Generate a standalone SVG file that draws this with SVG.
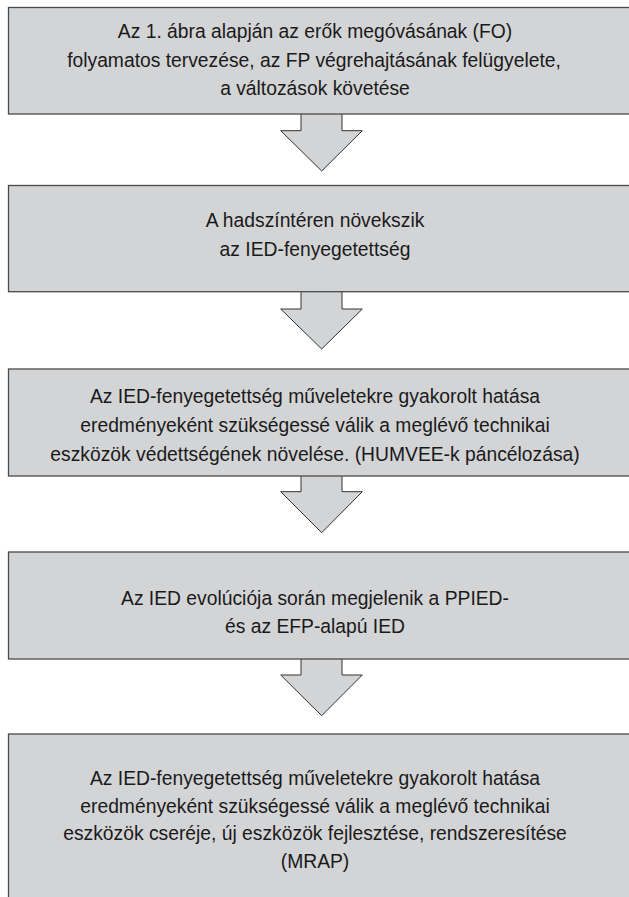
<svg xmlns="http://www.w3.org/2000/svg" width="629" height="897" viewBox="0 0 629 897">
<style>
.box{fill:#d3d4d6;stroke:#4a4a4a;stroke-width:1.3}
.arr{fill:#d3d4d6;stroke:#333;stroke-width:1}
text{font-family:"Liberation Sans",Arial,sans-serif;font-size:19.3px;fill:#1a1a1a;text-anchor:middle}
</style>
<rect width="629" height="897" fill="#fff"/>
<g id="connectors">
<path class="arr" d="M301,114 V130.7 H280.7 L321.7,171 L362.3,130.7 H342 V114"/>
<path class="arr" d="M301,291.7 V309 H280.7 L321.7,349 L362.3,309 H342 V291.7"/>
<path class="arr" d="M301,476 V491.7 H280.7 L321.7,532.7 L362.3,491.7 H342 V476"/>
<path class="arr" d="M301,659 V675 H280.7 L321.7,715.7 L362.3,675 H342 V659"/>
</g>
<g id="n1">
<rect class="box" x="8.5" y="7.5" width="640" height="106.5"/>
<text x="315" y="38">Az 1. ábra alapján az erők megóvásának (FO)</text>
<text x="314" y="67">folyamatos tervezése, az FP végrehajtásának felügyelete,</text>
<text x="315" y="95">a változások követése</text>
</g>
<g id="n2">
<rect class="box" x="8.5" y="185.5" width="640" height="106.2"/>
<text x="315" y="227">A hadszíntéren növekszik</text>
<text x="315" y="256">az IED-fenyegetettség</text>
</g>
<g id="n3">
<rect class="box" x="8.5" y="369" width="640" height="107"/>
<text x="315" y="403">Az IED-fenyegetettség műveletekre gyakorolt hatása</text>
<text x="315" y="432">eredményeként szükségessé válik a meglévő technikai</text>
<text x="315" y="461">eszközök védettségének növelése. (HUMVEE-k páncélozása)</text>
</g>
<g id="n4">
<rect class="box" x="8.5" y="552" width="640" height="107"/>
<text x="315" y="605">Az IED evolúciója során megjelenik a PPIED-</text>
<text x="315" y="633">és az EFP-alapú IED</text>
</g>
<g id="n5">
<rect class="box" x="8.5" y="734" width="640" height="200"/>
<text x="315" y="785">Az IED-fenyegetettség műveletekre gyakorolt hatása</text>
<text x="315" y="813">eredményeként szükségessé válik a meglévő technikai</text>
<text x="315" y="840">eszközök cseréje, új eszközök fejlesztése, rendszeresítése</text>
<text x="315" y="868">(MRAP)</text>
</g>
</svg>
